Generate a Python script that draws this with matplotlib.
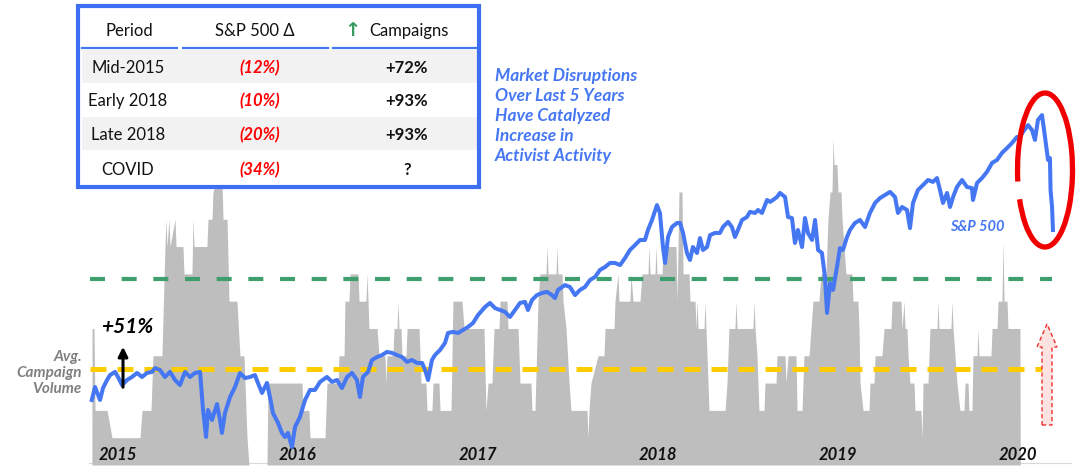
import matplotlib
matplotlib.use("Agg")
import matplotlib.pyplot as plt
from matplotlib.patches import Arc, Polygon, Rectangle

plt.rcParams['font.family'] = ['Lato', 'DejaVu Sans']

W, H = 1076, 466

# S&P 500 (months since Jan 2015, index level as drawn)
sp500 = [
    (-1.75, 2051), (-1.53, 2112), (-1.2, 2051), (-1.0, 2107), (-0.73, 2145), (-0.53, 2168),
    (-0.2, 2183), (0.0, 2159), (0.27, 2121), (0.6, 2145), (0.93, 2159), (1.27, 2178),
    (1.6, 2159), (1.93, 2178), (2.27, 2183), (2.47, 2201), (2.8, 2192), (3.13, 2159),
    (3.47, 2183), (3.8, 2145), (4.13, 2121), (4.47, 2183), (4.8, 2159), (5.13, 2178),
    (5.47, 2183), (5.67, 2004), (5.87, 1877), (6.0, 2004), (6.27, 1957), (6.6, 2032),
    (6.8, 1957), (6.93, 1896), (7.13, 1990), (7.47, 2065), (7.8, 2112), (8.13, 2178),
    (8.47, 2154), (8.8, 2159), (9.13, 2168), (9.33, 2131), (9.6, 2084), (9.93, 2131),
    (10.13, 2065), (10.33, 1990), (10.67, 1943), (10.93, 1896), (11.13, 1877), (11.33, 1896),
    (11.6, 1830), (11.8, 1924), (12.13, 1971), (12.47, 2051), (12.8, 2098), (13.13, 2098),
    (13.47, 2136), (13.93, 2159), (14.27, 2136), (14.6, 2145), (14.93, 2107), (15.27, 2159),
    (15.6, 2178), (15.93, 2145), (16.13, 2065), (16.33, 2159), (16.67, 2183), (16.93, 2239),
    (17.27, 2253), (17.6, 2262), (17.93, 2277), (18.27, 2272), (18.6, 2262), (18.93, 2253),
    (19.27, 2230), (19.6, 2239), (19.93, 2225), (20.27, 2225), (20.47, 2192), (20.67, 2145),
    (20.93, 2239), (21.13, 2262), (21.47, 2286), (21.8, 2319), (22.0, 2366), (22.33, 2371),
    (22.67, 2366), (23.0, 2380), (23.33, 2394), (23.67, 2413), (24.0, 2450), (24.47, 2488),
    (24.8, 2507), (25.13, 2483), (25.47, 2474), (25.8, 2465), (26.13, 2441), (26.47, 2474),
    (26.8, 2507), (27.13, 2512), (27.33, 2474), (27.6, 2521), (27.93, 2544), (28.27, 2554),
    (28.6, 2559), (28.93, 2544), (29.13, 2530), (29.33, 2568), (29.8, 2591), (30.13, 2582),
    (30.47, 2544), (30.8, 2568), (31.13, 2582), (31.47, 2615), (31.8, 2629), (32.13, 2662),
    (32.47, 2676), (32.8, 2695), (33.13, 2695), (33.47, 2685), (33.8, 2718), (34.13, 2756),
    (34.47, 2779), (34.8, 2803), (35.13, 2803), (35.33, 2850), (35.6, 2897), (35.93, 2967),
    (36.13, 2930), (36.33, 2770), (36.47, 2695), (36.67, 2817), (36.93, 2864), (37.27, 2883),
    (37.47, 2883), (37.67, 2836), (37.93, 2742), (38.13, 2709), (38.33, 2770), (38.6, 2742),
    (38.8, 2812), (39.0, 2756), (39.27, 2770), (39.47, 2826), (39.8, 2836), (40.13, 2836),
    (40.33, 2864), (40.67, 2888), (40.93, 2864), (41.13, 2817), (41.33, 2850), (41.6, 2897),
    (41.93, 2911), (42.13, 2935), (42.47, 2930), (42.67, 2944), (42.93, 2930), (43.27, 2991),
    (43.47, 2982), (43.67, 2991), (43.93, 3005), (44.13, 3024), (44.47, 3005), (44.67, 2911),
    (44.93, 2906), (45.13, 2789), (45.33, 2850), (45.6, 2770), (45.8, 2906), (46.0, 2836),
    (46.27, 2803), (46.47, 2897), (46.67, 2756), (46.93, 2742), (47.13, 2629), (47.27, 2460),
    (47.47, 2601), (47.67, 2568), (47.93, 2676), (48.13, 2765), (48.33, 2756), (48.6, 2817),
    (48.8, 2850), (49.13, 2883), (49.47, 2897), (49.8, 2864), (50.13, 2930), (50.47, 2977),
    (50.8, 3000), (51.13, 3014), (51.47, 3029), (51.8, 3005), (52.0, 2930), (52.27, 2958),
    (52.6, 2944), (52.8, 2859), (53.0, 2977), (53.33, 3038), (53.67, 3061), (54.0, 3085),
    (54.33, 3076), (54.6, 3094), (54.8, 3038), (55.0, 2977), (55.27, 3024), (55.47, 2958),
    (55.67, 3005), (55.93, 3052), (56.27, 3085), (56.6, 3052), (56.93, 3047), (57.0, 2991),
    (57.27, 3071), (57.6, 3094), (57.93, 3123), (58.27, 3165), (58.6, 3179), (58.93, 3212),
    (59.27, 3235), (59.6, 3259), (59.93, 3287), (60.13, 3287), (60.33, 3311), (60.67, 3343),
    (60.93, 3320), (61.13, 3273), (61.33, 3367), (61.6, 3390), (61.8, 3287), (62.0, 3179),
    (62.13, 3188), (62.17, 3038), (62.27, 2958), (62.33, 2850),
]

# rolling activist campaign count (months since Jan 2015, campaigns)
campaigns = [
    (-1.74, 0), (-1.73, 5), (-1.6, 5), (-1.53, 2), (-0.73, 2), (-0.4, 1), (1.47, 1), (1.6, 2),
    (2.2, 2), (2.33, 4), (2.93, 4), (3.13, 8), (3.2, 9), (3.27, 8), (3.4, 9), (3.47, 8),
    (3.8, 9), (3.87, 8), (4.33, 8), (4.4, 7), (4.93, 7), (5.0, 9), (5.07, 8), (5.93, 8),
    (6.0, 9), (6.27, 9), (6.33, 10), (6.6, 10.5), (6.93, 10.5), (7.0, 9), (7.27, 9), (7.4, 6),
    (7.93, 6), (8.13, 4), (8.4, 4), (8.6, 1), (8.73, 0), (9.93, 0), (10.0, 3), (12.27, 3),
    (12.33, 2), (12.73, 2), (12.8, 1), (13.8, 1), (13.93, 3), (14.67, 3), (14.73, 4), (15.07, 4),
    (15.13, 6), (15.4, 6), (15.47, 7), (16.0, 7), (16.07, 6), (16.53, 6), (16.6, 7), (16.67, 6),
    (16.73, 5), (17.27, 5), (17.4, 4), (17.8, 4), (17.87, 3), (17.93, 4), (18.33, 4), (18.4, 5),
    (18.6, 5), (18.67, 6), (18.73, 5), (18.87, 5), (18.93, 4), (19.2, 4), (19.27, 5), (20.07, 5),
    (20.2, 3), (20.53, 3), (20.6, 2), (20.93, 2), (21.0, 3), (21.4, 3), (21.47, 2), (22.2, 2),
    (22.33, 6), (22.93, 6), (23.07, 5), (24.4, 5), (24.53, 2), (24.67, 3), (24.93, 3), (25.07, 5),
    (25.4, 5), (25.47, 6), (25.93, 6), (26.0, 5), (26.67, 5), (26.8, 3), (27.53, 3), (27.6, 2),
    (27.8, 2), (28.0, 6), (28.13, 7), (28.53, 7), (28.6, 8), (28.67, 7), (29.2, 7), (29.27, 8),
    (29.33, 7), (29.6, 7), (29.67, 6), (29.87, 5), (30.07, 3), (30.2, 2), (31.27, 2), (31.33, 1),
    (31.4, 2), (31.53, 3), (32.0, 4), (32.4, 4), (32.47, 5), (33.07, 5), (33.13, 6), (33.33, 7),
    (33.4, 6), (34.13, 6), (34.2, 7), (34.33, 6), (34.8, 6), (34.93, 7), (35.33, 7), (35.4, 8),
    (35.47, 7), (35.8, 7), (35.87, 8), (35.93, 7), (36.27, 7), (36.33, 8), (37.2, 8), (37.27, 6),
    (37.4, 10), (37.6, 10), (37.67, 7), (38.07, 7), (38.13, 6), (38.47, 6), (38.53, 5), (38.6, 6),
    (38.67, 5), (39.07, 5), (39.13, 6), (39.2, 5), (39.27, 4), (39.4, 2), (40.47, 2), (40.6, 3),
    (40.73, 5), (41.13, 5), (41.2, 6), (41.27, 5), (42.33, 5), (42.4, 6), (42.47, 5), (42.6, 4),
    (42.73, 2), (43.07, 2), (43.13, 3), (43.87, 3), (43.93, 4), (44.47, 4), (44.53, 3), (44.67, 4),
    (45.2, 4), (45.27, 2), (45.6, 2), (45.73, 4), (46.07, 4), (46.2, 5), (46.33, 6), (46.73, 6),
    (46.87, 7), (47.2, 7), (47.33, 9), (47.47, 10), (47.6, 10), (47.67, 12), (47.73, 11), (47.93, 11),
    (48.0, 10), (48.2, 10), (48.27, 9), (48.4, 8), (48.53, 7), (48.93, 7), (49.0, 6), (49.33, 6),
    (49.4, 5), (49.47, 3), (49.67, 2), (50.07, 2), (50.13, 3), (50.4, 3), (50.47, 4), (50.93, 4),
    (51.07, 5), (51.53, 5), (51.6, 6), (52.2, 6), (52.27, 5), (52.4, 6), (52.47, 5), (52.6, 5),
    (52.67, 4), (52.8, 3), (53.07, 3), (53.13, 2), (53.53, 2), (53.6, 1), (53.67, 3), (54.0, 3),
    (54.07, 4), (54.13, 5), (54.6, 5), (54.67, 6), (54.73, 5), (55.53, 5), (55.6, 6), (55.67, 5),
    (55.8, 4), (55.93, 3), (56.13, 2), (56.4, 2), (56.47, 3), (56.67, 3), (56.73, 2), (56.93, 2),
    (57.0, 4), (57.27, 4), (57.33, 5), (57.4, 4), (58.2, 4), (58.27, 5), (58.6, 5), (58.67, 6),
    (58.93, 6), (59.0, 8.2), (59.07, 6), (59.27, 6), (59.33, 5), (60.13, 5), (60.15, 0),
]

avg_volume = 3.52          # average campaign volume
peak_volume = 3.52 * 1.93  # +93% over average
year_labels = ['2015', '2016', '2017', '2018', '2019', '2020']
year_months = [0, 12, 24, 36, 48, 60]

# table content
columns = ['Period', 'S&P 500 \u0394', 'Campaigns']
periods = ['Mid-2015', 'Early 2018', 'Late 2018', 'COVID']
sp_change = ['(12%)', '(10%)', '(20%)', '(34%)']
campaign_change = ['+72%', '+93%', '+93%', '?']

BLUE = '#4677f3'
GRAY = '#bebebe'

fig = plt.figure(figsize=(W / 100, H / 100), dpi=100)
fig.patch.set_facecolor('white')

# main chart: campaign count
ax = fig.add_axes([0, 0, 1, 1])
ax.set_xlim((0 - 118) / 15, (W - 118) / 15)
ax.set_ylim(-0.037, 17.03)
ax.axis('off')

cm, cv = zip(*campaigns)
ax.fill_between(cm, 0, cv, color=GRAY, linewidth=0, zorder=1)
ax.plot([-1.87, 61.6], [avg_volume, avg_volume], color='#ffcc00', lw=3.6,
        dashes=(3.2, 2.2), zorder=2)
ax.plot([-1.87, 62.27], [peak_volume, peak_volume], color='#3f9e6e', lw=3.0,
        dashes=(3.6, 4.0), zorder=2)
ax.plot([-1.9, 63.5], [0.06, 0.06], color='#d9d9d9', lw=0.8, zorder=0)

for lab, m in zip(year_labels, year_months):
    ax.text(m, 0.37, lab, ha='center', va='center', fontsize=12,
            fontweight='bold', style='italic', color='#111111', zorder=5)

# S&P 500 on its own scale
ax2 = ax.twinx()
ax2.set_ylim(1740.7, 3930.9)
ax2.axis('off')
sm, sv = zip(*sp500)
ax2.plot(sm, sv, color=BLUE, lw=2.9, solid_joinstyle='round', zorder=3)

# overlay for annotations (pixel layout)
ov = fig.add_axes([0, 0, 1, 1])
ov.set_xlim(0, W)
ov.set_ylim(H, 0)
ov.axis('off')

# table
ov.add_patch(Rectangle((78, 6), 401, 181, facecolor='white', edgecolor='none', zorder=1))
ov.add_patch(Rectangle((82, 50), 396, 33, facecolor='#f2f2f2', edgecolor='none', zorder=2))
ov.add_patch(Rectangle((82, 117), 396, 33, facecolor='#f2f2f2', edgecolor='none', zorder=2))
for x0, x1 in [(82, 177), (183, 328), (333, 478)]:
    ov.plot([x0, x1], [48, 48], color=BLUE, lw=1.6, zorder=3)
ov.add_patch(Rectangle((78, 6), 401, 181, facecolor='none', edgecolor='#3d6ff2',
                       lw=3.0, zorder=6))

ov.text(129, 31, columns[0], ha='center', va='center', fontsize=12, color='#111111', zorder=4)
ov.text(255, 31, columns[1], ha='center', va='center', fontsize=12, color='#111111', zorder=4)
ov.text(352, 31, '\u2191', ha='center', va='center', fontsize=14, color='#3a9a62',
        fontweight='bold', family=['DejaVu Sans'], zorder=4)
ov.text(369, 31, columns[2], ha='left', va='center', fontsize=12, color='#111111', zorder=4)

row_y = [68, 101, 135, 170]
for y, p, s, c in zip(row_y, periods, sp_change, campaign_change):
    ov.text(128, y, p, ha='center', va='center', fontsize=12, color='#111111', zorder=4)
    ov.text(260, y, s, ha='center', va='center', fontsize=12, color='#ff0000',
            fontweight='bold', style='italic', zorder=4)
    ov.text(407, y, c, ha='center', va='center', fontsize=12, color='#111111',
            fontweight='bold', zorder=4)

# blue call-out text
ov.text(495, 116, 'Market Disruptions\nOver Last 5 Years\nHave Catalyzed\nIncrease in\nActivist Activity',
        ha='left', va='center', fontsize=12.5, color=BLUE, fontweight='bold',
        style='italic', linespacing=1.3)
ov.text(977, 227, 'S&P 500', ha='center', va='center', fontsize=10.5, color=BLUE,
        fontweight='bold', style='italic')

# avg campaign volume label
ov.text(82, 373, 'Avg.\nCampaign\nVolume', ha='right', va='center', fontsize=11,
        color='#7f7f7f', fontweight='bold', style='italic', linespacing=1.2,
        multialignment='right')

# +51% arrow
ov.annotate('', xy=(123, 344), xytext=(123, 390),
            arrowprops=dict(arrowstyle='-|>', lw=2.2, color='black', mutation_scale=14))
ov.text(127, 327, '+51%', ha='center', va='center', fontsize=15, fontweight='bold',
        style='italic', color='black')

# red circle around the COVID drop
ov.add_patch(Arc((1045, 170), 55, 154, theta1=157, theta2=131, color='#f00000', lw=3.8))

# pink dashed arrow
ov.add_patch(Polygon([(1042, 425), (1052, 425), (1052, 347), (1057, 347), (1047, 324),
                      (1037, 347), (1042, 347)], closed=True, facecolor='#fde2e2',
                     edgecolor='#f03030', lw=1.0, linestyle=(0, (3, 2))))

fig.savefig('out.png', dpi=100)
